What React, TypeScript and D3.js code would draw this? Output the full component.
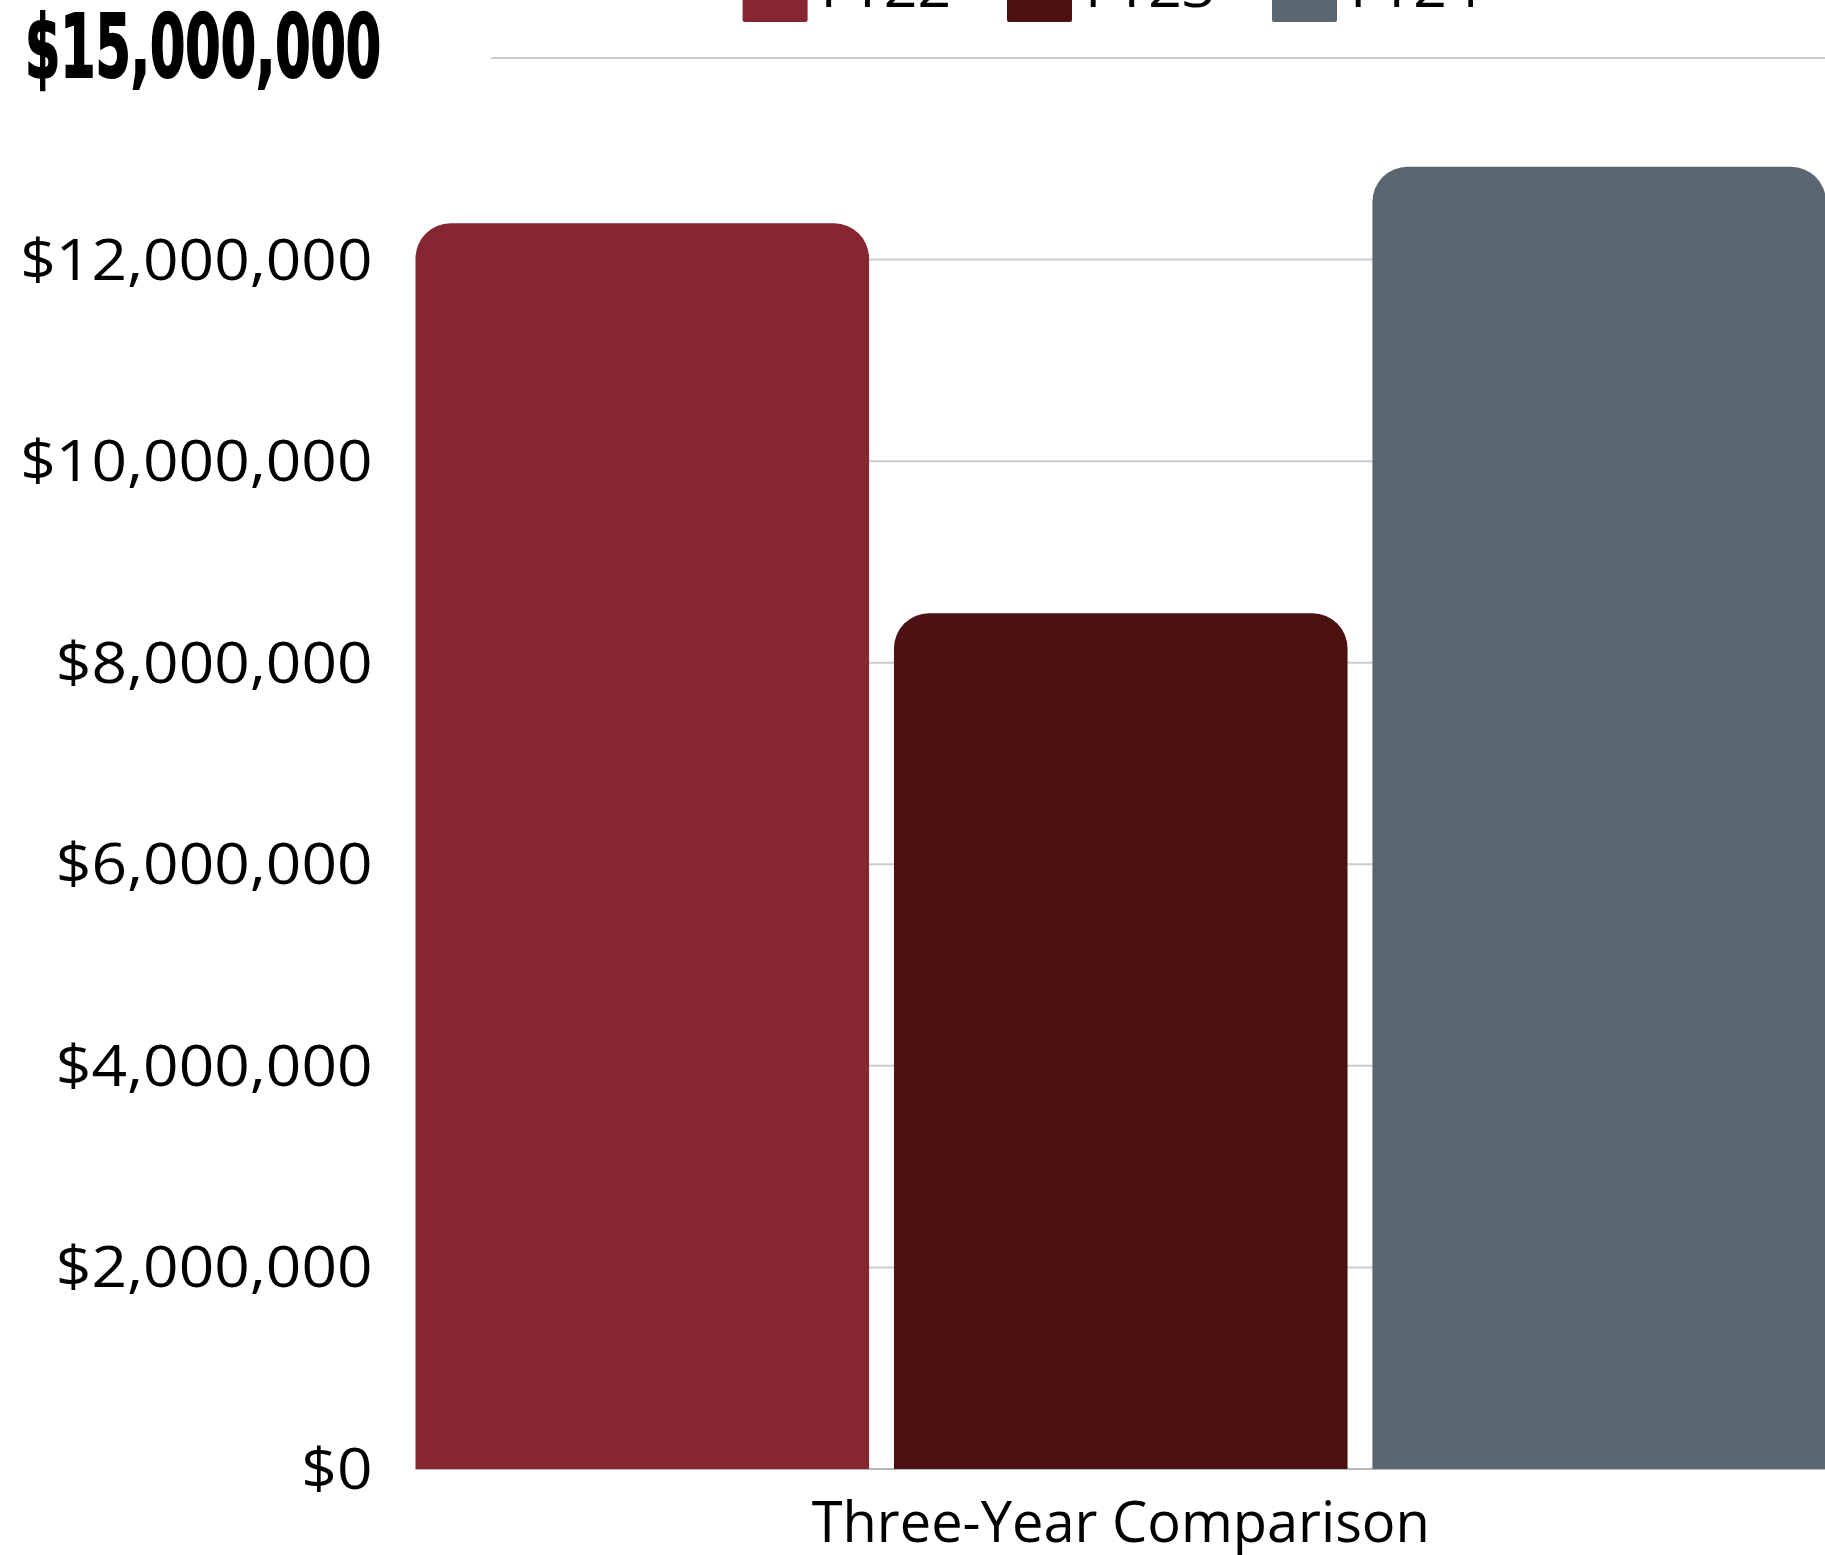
import React from "react";
import * as d3 from "d3";

const categories = ["Three-Year Comparison"];
const seriesNames = ["FY22", "FY23", "FY24"];
const seriesValues = [12360000, 8490000, 12920000];
const seriesColors = ["#862633", "#4B1113", "#5B6770"];
const yTicks = [0, 2000000, 4000000, 6000000, 8000000, 10000000, 12000000, 14000000];
const topLabel = "$15,000,000";

const W = 1825;
const H = 1555;
const plotLeft = 415.5;
const plotRight = 1826;
const y0px = 1469;
const y14px = 58;
const FS = 56;

// approximate advance widths (em) of the reference face
const charW = (c: string) => {
  if (/[0-9$]/.test(c)) return 0.635;
  if (c === ",") return 0.287;
  if (c === "F") return 0.532;
  if (c === "Y") return 0.528;
  return 0.55;
};
const textLen = (s: string) => s.split("").reduce((a, c) => a + charW(c), 0) * FS;

export default function App() {
  const y = d3.scaleLinear().domain([0, 14000000]).range([y0px, y14px]);
  const x0 = d3.scaleBand().domain(categories).range([plotLeft, plotRight]).padding(0);
  const x1 = d3
    .scaleBand()
    .domain(seriesNames)
    .range([0, x0.bandwidth()])
    .paddingInner(0.052)
    .paddingOuter(0);
  const fmt = (v: number) => "$" + d3.format(",")(v);
  const r = 35;
  const barPath = (x: number, w: number, top: number, bottom: number) => {
    const rr = Math.min(r, w / 2, (bottom - top) / 2);
    const p = d3.path();
    p.moveTo(x, bottom);
    p.lineTo(x, top + rr);
    p.arcTo(x, top, x + rr, top, rr);
    p.lineTo(x + w - rr, top);
    p.arcTo(x + w, top, x + w, top + rr, rr);
    p.lineTo(x + w, bottom);
    p.closePath();
    return p.toString();
  };
  const font = "'Open Sans', 'Noto Sans', sans-serif";
  const legendX = [742.6, 1007, 1272];

  return (
    <svg
      width={W}
      height={H}
      style={{ position: "absolute", left: 0, top: 0, background: "#fff", overflow: "hidden" }}
    >
      <rect x={0} y={0} width={W} height={H} fill="#fff" />
      {/* gridlines */}
      {yTicks.map((t) => (
        <line
          key={t}
          x1={t === 0 ? plotLeft : 491}
          x2={W}
          y1={y(t)}
          y2={y(t)}
          stroke={t === 0 ? "#b8b8b8" : "#cccccc"}
          strokeWidth={2}
        />
      ))}
      {/* y labels */}
      {yTicks
        .filter((t) => t < 14000000)
        .map((t) => (
          <text
            key={t}
            x={372.5}
            y={y(t) + 20}
            textAnchor="end"
            fontFamily={font}
            fontSize={FS}
            textLength={textLen(fmt(t))}
            lengthAdjust="spacingAndGlyphs"
            fill="#000"
          >
            {fmt(t)}
          </text>
        ))}
      <text
        x={25}
        y={77}
        fontFamily="'Liberation Sans Narrow', 'DejaVu Sans Condensed', 'Liberation Sans', sans-serif"
        fontWeight="bold"
        fontSize={88}
        textLength={356}
        lengthAdjust="spacingAndGlyphs"
        fill="#000"
        stroke="#000"
        strokeWidth={2}
      >
        {topLabel}
      </text>
      {/* bars */}
      {categories.map((c) => (
        <g key={c} transform={`translate(${x0(c)},0)`}>
          {seriesNames.map((s, i) => (
            <path
              key={s}
              d={barPath(x1(s) as number, x1.bandwidth(), y(seriesValues[i]), y(0))}
              fill={seriesColors[i]}
            />
          ))}
          <text
            x={x0.bandwidth() / 2}
            y={1542}
            textAnchor="middle"
            fontFamily={font}
            fontSize={FS}
            fill="#000"
          >
            {c}
          </text>
        </g>
      ))}
      {/* legend */}
      {seriesNames.map((s, i) => (
        <g key={s} transform={`translate(${legendX[i]},0)`}>
          <rect x={0} y={-43} width={65} height={65} rx={2} fill={seriesColors[i]} />
          <text
            x={78}
            y={7}
            fontFamily={font}
            fontSize={FS}
            textLength={textLen(s)}
            lengthAdjust="spacingAndGlyphs"
            fill="#000"
          >
            {s}
          </text>
        </g>
      ))}
    </svg>
  );
}
